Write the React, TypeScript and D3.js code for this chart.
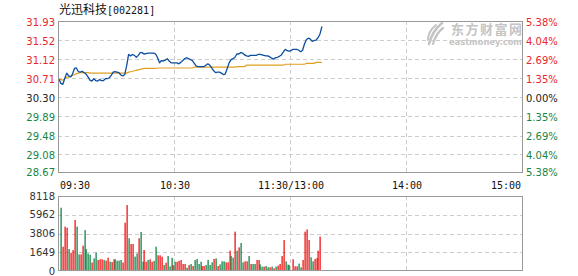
import React from 'react';
import * as d3 from 'd3';

const titleName = '光迅科技';
const titleCode = '[002281]';
const priceTicks = [31.93, 31.52, 31.12, 30.71, 30.3, 29.89, 29.48, 29.08, 28.67];
const pctTicks = ['5.38%', '4.04%', '2.69%', '1.35%', '0.00%', '1.35%', '2.69%', '4.04%', '5.38%'];
const preClose = 30.3;
const timeLabels = ['09:30', '10:30', '11:30/13:00', '14:00', '15:00'];
const timeMinutes = [0, 60, 120, 180, 240];
const volTickLabels = ['8118', '5962', '3806', '1649', '0'];
const volMax = 8118;

const prices = [
  30.71, 30.62, 30.6, 30.73, 30.84, 30.78, 30.76, 30.82, 30.94, 30.95,
  30.87, 30.86, 30.88, 30.85, 30.82, 30.76, 30.69, 30.67, 30.72, 30.68,
  30.67, 30.7, 30.68, 30.68, 30.72, 30.72, 30.74, 30.79, 30.86, 30.87,
  30.86, 30.85, 30.8, 30.78, 30.81, 31.0, 31.24, 31.21, 31.24, 31.22,
  31.18, 31.22, 31.28, 31.28, 31.25, 31.26, 31.27, 31.27, 31.27, 31.27,
  31.25, 31.17, 31.06, 31.11, 31.1, 31.12, 31.15, 31.1, 31.06, 31.06,
  31.06, 31.06, 31.04, 31.07, 31.11, 31.15, 31.17, 31.15, 31.13, 31.11,
  31.05, 30.99, 30.98, 30.98, 30.98, 30.98, 31.01, 31.04, 31.01, 30.95,
  30.89, 30.85, 30.86, 30.86, 30.84, 30.81, 30.82, 30.94, 31.06, 31.13,
  31.15, 31.18, 31.25, 31.25, 31.28, 31.27, 31.23, 31.21, 31.2, 31.22,
  31.22, 31.22, 31.22, 31.24, 31.24, 31.23, 31.22, 31.21, 31.21, 31.19,
  31.16, 31.14, 31.17, 31.18, 31.2, 31.23, 31.29, 31.35, 31.32, 31.31,
  31.32, 31.35, 31.35, 31.35, 31.33, 31.3, 31.33, 31.47, 31.56, 31.59,
  31.57, 31.52, 31.54, 31.55, 31.6, 31.68, 31.84,
];

const avgPrices = [
  30.71, 30.7, 30.69, 30.72, 30.75, 30.76, 30.77, 30.79, 30.81, 30.83,
  30.84, 30.85, 30.85, 30.85, 30.85, 30.85, 30.84, 30.84, 30.84, 30.84,
  30.84, 30.84, 30.84, 30.84, 30.84, 30.84, 30.84, 30.84, 30.84, 30.84,
  30.84, 30.84, 30.84, 30.84, 30.84, 30.84, 30.86, 30.87, 30.88, 30.89,
  30.9, 30.91, 30.92, 30.93, 30.94, 30.94, 30.94, 30.94, 30.94, 30.94,
  30.94, 30.95, 30.95, 30.95, 30.95, 30.95, 30.95, 30.95, 30.95, 30.95,
  30.95, 30.95, 30.95, 30.95, 30.95, 30.95, 30.95, 30.95, 30.95, 30.95,
  30.97, 30.97, 30.97, 30.97, 30.97, 30.97, 30.97, 30.97, 30.97, 30.97,
  30.97, 30.97, 30.97, 30.97, 30.97, 30.97, 30.97, 30.97, 30.97, 30.97,
  30.97, 30.97, 30.98, 30.98, 30.98, 30.98, 30.98, 31.01, 31.01, 31.01,
  31.01, 31.01, 31.01, 31.01, 31.01, 31.01, 31.01, 31.01, 31.01, 31.01,
  31.01, 31.01, 31.01, 31.01, 31.01, 31.01, 31.01, 31.03, 31.03, 31.03,
  31.03, 31.03, 31.03, 31.03, 31.03, 31.03, 31.03, 31.03, 31.05, 31.05,
  31.05, 31.05, 31.05, 31.07, 31.07, 31.07, 31.07,
];

const volumes = [
  6850, 2630, 4800, 4680, 2380, 1980, 2270, 5520, 4800, 1800,
  1800, 2740, 4430, 2380, 1900, 1750, 920, 1370, 1980, 1190,
  1270, 1270, 1190, 1120, 1440, 1010, 975, 1270, 1270, 1120,
  1120, 1190, 920, 5230, 7140, 3540, 2920, 2920, 1560, 1900,
  3540, 4220, 1010, 2270, 1000, 1190, 1270, 1000, 1100, 2630,
  1700, 1700, 1550, 650, 900, 1620, 500, 1440, 650, 1000,
  1000, 1100, 1190, 760, 760, 360, 650, 760, 540, 1190,
  1300, 760, 1000, 540, 540, 650, 1200, 650, 940, 1300,
  1370, 540, 720, 1050, 1050, 940, 940, 2200, 1620, 1440,
  4260, 2200, 2560, 3030, 940, 1050, 1050, 1620, 760, 760,
  760, 1190, 1190, 720, 470, 470, 540, 400, 400, 470,
  290, 470, 580, 760, 1620, 3350, 1050, 690, 650, 0,
  1270, 510, 510, 800, 400, 1190, 4260, 4500, 3350, 1480,
  1050, 1300, 1400, 2200, 3720,
];

const volUp = [
  0, 1, 1, 1, 0, 1, 1, 1, 0, 0,
  1, 1, 0, 0, 0, 0, 1, 0, 0, 1,
  1, 1, 0, 1, 1, 0, 1, 1, 0, 0,
  0, 0, 1, 1, 1, 0, 1, 1, 0, 0,
  1, 0, 0, 1, 1, 0, 1, 1, 0, 0,
  1, 1, 1, 0, 1, 0, 0, 0, 1, 0,
  1, 1, 1, 1, 1, 0, 1, 0, 1, 0,
  0, 0, 0, 1, 1, 0, 0, 0, 0, 1,
  0, 1, 0, 0, 0, 1, 1, 1, 0, 0,
  1, 0, 1, 0, 0, 1, 1, 0, 1, 0,
  0, 1, 1, 0, 0, 1, 0, 0, 1, 0,
  1, 0, 1, 1, 1, 1, 0, 0, 0, 0,
  1, 1, 1, 0, 0, 1, 1, 1, 1, 0,
  0, 1, 1, 1, 1,
];

const RED = '#e8262d';
const GREEN = '#178545';
const GRID = '#cccccc';
const BORDER = '#999999';
const LABEL_FONT = '"DejaVu Sans", Verdana, sans-serif';
const MONO_FONT = '"DejaVu Sans Mono", monospace';

export default function App() {
  const W = 578;
  const H = 276;
  const L = 58;
  const R = 522;
  const mainTop = 21;
  const mainBottom = 172;
  const volTop = 196;
  const volBottom = 270;

  const x = d3.scaleLinear().domain([0, 240]).range([59, 523]);
  const y = d3.scaleLinear().domain([28.67, 31.93]).range([174.3, 22.3]);
  const yv = d3.scaleLinear().domain([0, volMax]).range([271, 196]);
  const yvTicks = d3.scalePoint<string>().domain(volTickLabels).range([volTop, volBottom + 1]);

  const line = d3
    .line<number>()
    .x((_, i) => x(i))
    .y((d) => y(d));

  const labelColor = (v: number) => (Math.abs(v - preClose) < 1e-6 ? '#222' : v > preClose ? RED : GREEN);

  const crisp = (v: number) => Math.round(v) + 0.5;

  return (
    <svg
      width={W}
      height={H}
      style={{ position: 'absolute', left: 0, top: 0, display: 'block', background: '#fff' }}
    >
      <rect x={0} y={0} width={W} height={H} fill="#fff" />

      {/* title */}
      <text x={59} y={14} fontSize={12} fill="#111" fontFamily='"Noto Sans CJK SC", sans-serif'>
        {titleName}
      </text>
      <text x={107} y={14} fontSize={10} fill="#111" fontFamily={MONO_FONT}>
        {titleCode}
      </text>

      {/* watermark */}
      <g fill="none" stroke="#c4c4c4" strokeLinecap="round">
        <path d="M429,44 C431,36 436,28 442,23" strokeWidth={2.6} />
        <path d="M433,44 C435,37 439,31 443,28" strokeWidth={2.2} />
        <path d="M428,40 C428,34 431,29 436,25" strokeWidth={2} />
      </g>
      <text x={451} y={34} fontSize={13} fontWeight="bold" fill="#c4c4c4" fontFamily='"Noto Sans CJK SC", sans-serif' textLength={71}>
        东方财富网
      </text>
      <text x={449} y={45} fontSize={8} fontWeight="bold" fill="#c4c4c4" fontFamily={LABEL_FONT} textLength={73} lengthAdjust="spacingAndGlyphs">
        eastmoney.com
      </text>

      {/* grid */}
      <g stroke={GRID} strokeWidth={1} strokeDasharray="4,3">
        {priceTicks.slice(1, -1).map((p) => (
          <line key={'h' + p} x1={L} x2={R} y1={crisp(y(p)) - 1} y2={crisp(y(p)) - 1} />
        ))}
        {timeMinutes.slice(1, -1).map((m) => (
          <line key={'v' + m} x1={crisp(x(m)) - 1} x2={crisp(x(m)) - 1} y1={mainTop} y2={mainBottom} />
        ))}
        {volTickLabels.slice(1, -1).map((t) => (
          <line key={'vh' + t} x1={L} x2={R} y1={crisp(yvTicks(t)!)} y2={crisp(yvTicks(t)!)} />
        ))}
        {timeMinutes.slice(1, -1).map((m) => (
          <line key={'vv' + m} x1={crisp(x(m)) - 1} x2={crisp(x(m)) - 1} y1={volTop} y2={volBottom} />
        ))}
      </g>

      {/* avg line */}
      <path d={line(avgPrices) || ''} fill="none" stroke="#e0a020" strokeWidth={1.2} />
      {/* price line */}
      <path d={line(prices) || ''} fill="none" stroke="#0b4ea2" strokeWidth={1.3} strokeLinejoin="round" />

      {/* volume bars */}
      {volumes.map((v, i) =>
        v > 0 ? (
          <rect
            key={'b' + i}
            x={Math.round(x(i + 1.2)) - 0.5}
            y={yv(v)}
            width={1.2}
            height={yv(0) - yv(v)}
            fill={volUp[i] ? '#ee0000' : '#007a38'}
          />
        ) : null
      )}

      {/* borders */}
      <rect x={L + 0.5} y={mainTop + 0.5} width={R - L} height={mainBottom - mainTop} fill="none" stroke={BORDER} />
      <rect x={L + 0.5} y={volTop + 0.5} width={R - L} height={volBottom - volTop} fill="none" stroke={BORDER} />

      {/* price labels */}
      {priceTicks.map((p) => (
        <text
          key={'pl' + p}
          x={55}
          y={Math.min(y(p), 172.5)}
          dy="0.36em"
          textAnchor="end"
          fontSize={10}
          fill={labelColor(p)}
          fontFamily={LABEL_FONT}
        >
          {p.toFixed(2)}
        </text>
      ))}
      {pctTicks.map((t, i) => (
        <text
          key={'pr' + i}
          x={526}
          y={Math.min(y(priceTicks[i]), 172.5)}
          dy="0.36em"
          textAnchor="start"
          fontSize={10}
          fill={labelColor(priceTicks[i])}
          fontFamily={LABEL_FONT}
        >
          {t}
        </text>
      ))}

      {/* time labels */}
      {timeLabels.map((t, i) => (
        <text
          key={'t' + t}
          x={i === 0 ? 60 : i === timeLabels.length - 1 ? 521 : x(timeMinutes[i])}
          y={189}
          textAnchor={i === 0 ? 'start' : i === timeLabels.length - 1 ? 'end' : 'middle'}
          fontSize={10}
          fill="#111"
          fontFamily={MONO_FONT}
        >
          {t}
        </text>
      ))}

      {/* volume labels */}
      {volTickLabels.map((t) => (
        <text
          key={'vl' + t}
          x={55}
          y={yvTicks(t)!}
          dy="0.36em"
          textAnchor="end"
          fontSize={10}
          fill="#333"
          fontFamily={LABEL_FONT}
        >
          {t}
        </text>
      ))}
    </svg>
  );
}
